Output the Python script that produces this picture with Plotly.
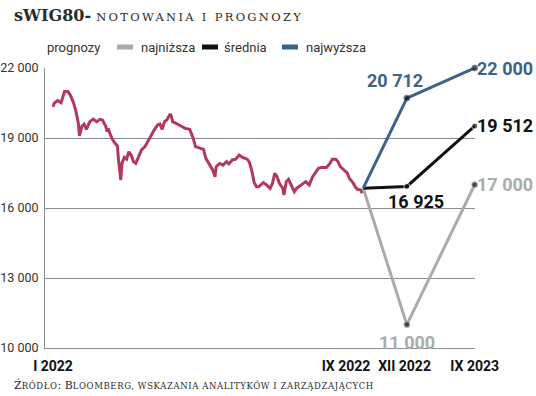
import plotly.graph_objects as go

# ---- data ----
# history: day index on the chart's own compressed scale (0 = 3 Jan 2022) and sWIG80 close
hist_t = [0, 1, 4, 7, 10, 13, 15, 18, 20, 22, 23, 25, 27, 29, 32, 35, 38, 41, 43, 46, 47, 48, 50, 52, 54, 56,
          57, 59, 60, 62, 64, 66, 68, 70, 72, 74, 77, 80, 83, 86, 88, 91, 93, 95, 97, 99, 102, 103, 104, 107,
          112, 115, 119, 122, 124, 128, 131, 133, 137, 139, 141, 142, 145, 148, 151, 153, 156, 159, 162, 165,
          169, 171, 173, 175, 177, 179, 183, 186, 189, 191, 193, 195, 197, 200, 201, 203, 205, 207, 210, 212,
          215, 218, 220, 223, 226, 229, 231, 234, 238, 241, 243, 246, 248, 250, 253, 256, 258, 261, 263, 265,
          268, 269]
hist_v = [20340, 20490, 20600, 20510, 20990, 20990, 20840, 20490, 20130, 19630, 19090, 19490, 19590, 19370,
          19700, 19810, 19700, 19800, 19770, 19490, 19270, 19410, 19130, 18910, 18770, 18660, 18060, 17200,
          17910, 18170, 18090, 18410, 18270, 17990, 17910, 18130, 18490, 18630, 18910, 19170, 19340, 19560,
          19600, 19370, 19700, 19770, 20030, 19940, 19700, 19630, 19510, 19410, 19370, 18990, 18630, 18560,
          18510, 18130, 17770, 17630, 17340, 17770, 17910, 17840, 17990, 17890, 18060, 18090, 18270, 18170,
          18090, 17950, 17600, 17100, 16920, 16910, 17090, 16990, 16840, 17060, 17490, 17340, 17060, 16840,
          16560, 17130, 17230, 16990, 16700, 16840, 16940, 17060, 17130, 16990, 17340, 17560, 17700, 17740,
          17740, 17910, 18090, 18090, 17990, 17770, 17630, 17510, 17270, 17090, 16910, 16800, 16770, 16630]

fc_t = [270, 308, 367]            # IX 2022 (last close), XII 2022, IX 2023
fc_low = [16850, 11000, 17000]
fc_avg = [16850, 16925, 19512]
fc_high = [16850, 20712, 22000]

y_ticks = [10000, 13000, 16000, 19000, 22000]
y_tick_text = ["10 000", "13 000", "16 000", "19 000", "22 000"]
x_ticks = [0, 255, 306, 367]
x_tick_text = ["I 2022", "IX 2022", "XII 2022", "IX 2023"]

# ---- style ----
RED = "#b3395c"
BLUE = "#3c6389"
GRAY = "#ababab"
BLACK = "#111111"
GRID = "#8c8c8c"
TXT = "#333333"
SANS = "Roboto, sans-serif"
SERIF = "DejaVu Serif, Liberation Serif, serif"

L, R, T, B = 45, 475, 68, 348
W, H = 536, 396


def px(x):
    return (x - L) / (R - L)


def py(y):
    return (B - y) / (B - T)


fig = go.Figure()
fig.add_trace(go.Scatter(x=hist_t, y=hist_v, mode="lines",
                         line=dict(color=RED, width=3), showlegend=False, hoverinfo="skip"))
for vals, col in [(fc_low, GRAY), (fc_avg, BLACK), (fc_high, BLUE)]:
    fig.add_trace(go.Scatter(x=fc_t, y=vals, mode="lines+markers",
                             line=dict(color=col, width=3),
                             marker=dict(size=[0, 6, 6], color="#111111"),
                             showlegend=False, hoverinfo="skip", cliponaxis=False))

# value labels
labels = [
    (fc_t[1], fc_high[1], "20 712", BLUE, -12, -18),
    (fc_t[2], fc_high[2], "22 000", BLUE, 30, 0),
    (fc_t[2], fc_avg[2], "19 512", BLACK, 30, -1),
    (fc_t[2], fc_low[2], "17 000", GRAY, 30, 0),
    (fc_t[1], fc_avg[1], "16 925", BLACK, 9, 15),
    (fc_t[1], fc_low[1], "11 000", GRAY, 0, 18),
]
for x, y, txt, col, dx, dy in labels:
    fig.add_annotation(x=x, y=y, text=f"<b>{txt}</b>", showarrow=False, xshift=dx, yshift=-dy,
                       font=dict(family=SANS, size=18, color=col), xanchor="center", yanchor="middle")

# title
fig.add_annotation(xref="paper", yref="paper", x=px(12), y=py(15), xanchor="left", yanchor="middle",
                   showarrow=False,
                   text="<b>sWIG80-</b> <span style='font-size:11.5px;letter-spacing:2.3px'>NOTOWANIA I PROGNOZY</span>",
                   font=dict(family=SERIF, size=16, color="#2b2b2b"))

# legend
fig.add_annotation(xref="paper", yref="paper", x=px(45), y=py(47), xanchor="left", yanchor="middle",
                   showarrow=False, text="prognozy", font=dict(family=SANS, size=13, color=TXT))
for x0, x1, col, tx, txt in [(117, 133, GRAY, 139, "najniższa"), (202, 218, BLACK, 222, "średnia"),
                             (282, 298, BLUE, 304, "najwyższa")]:
    fig.add_shape(type="line", xref="paper", yref="paper", x0=px(x0), x1=px(x1), y0=py(47), y1=py(47),
                  line=dict(color=col, width=5))
    fig.add_annotation(xref="paper", yref="paper", x=px(tx), y=py(47), xanchor="left", yanchor="middle",
                       showarrow=False, text=txt, font=dict(family=SANS, size=13, color=TXT))

# source
sc = "<span style='font-size:8.5px;letter-spacing:0.6px'>"
fig.add_annotation(xref="paper", yref="paper", x=px(12), y=py(385), xanchor="left", yanchor="middle",
                   showarrow=False,
                   text=f"Ź{sc}RÓDŁO</span>: B{sc}LOOMBERG, WSKAZANIA ANALITYKÓW I ZARZĄDZAJĄCYCH</span>",
                   font=dict(family=SERIF, size=11, color="#2b2b2b"))

fig.update_layout(
    width=W, height=H,
    margin=dict(l=L, r=W - R, t=T, b=H - B, pad=0),
    plot_bgcolor="white", paper_bgcolor="white",
    showlegend=False,
    xaxis=dict(range=[-7, 367.3], tickvals=x_ticks, ticktext=[f"<b>{t}</b>" for t in x_tick_text],
               showgrid=False, zeroline=False, showline=True, linecolor=GRID, linewidth=1,
               tickfont=dict(family=SANS, size=14, color=BLACK), ticks="", tickangle=0,
               ticklabelstandoff=5, automargin=False),
    yaxis=dict(range=[10000, 22000], tickvals=y_ticks, ticktext=y_tick_text,
               showgrid=True, gridcolor=GRID, gridwidth=1, zeroline=False,
               showline=True, linecolor=GRID, linewidth=1,
               tickfont=dict(family=SANS, size=12.5, color=TXT), ticks="", ticklabelstandoff=3,
               automargin=False),
)

fig.write_html("out.html", config={"displayModeBar": False},
               post_script="document.body.style.margin='0';document.body.style.overflow='hidden';")
